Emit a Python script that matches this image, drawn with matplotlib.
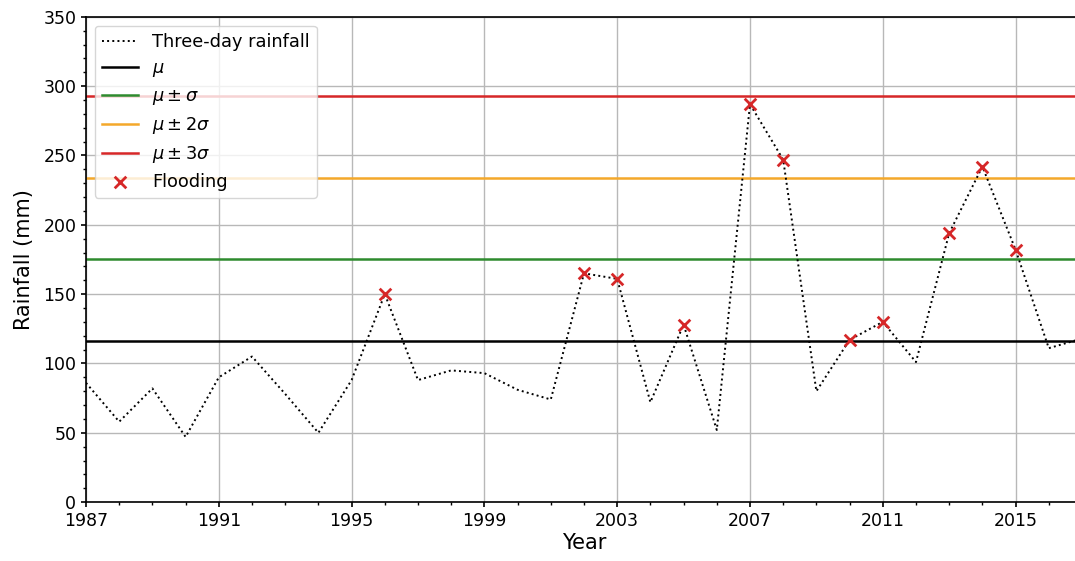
import matplotlib
matplotlib.use("Agg")
import matplotlib.pyplot as plt
from matplotlib.ticker import MultipleLocator, FixedLocator

years = list(range(1987, 2018))
rainfall = [86, 58, 82, 47, 90, 105, 78, 50, 88, 150, 88, 95, 93, 81, 74,
            165, 161, 72, 128, 52, 287, 247, 80, 117, 130, 101, 194, 242,
            182, 111, 118]
flood_years = [1996, 2002, 2003, 2005, 2007, 2008, 2010, 2011, 2013, 2014, 2015]
year_ticks = [1987, 1991, 1995, 1999, 2003, 2007, 2011, 2015]

mu = 116
sigma = 59

flood_values = [rainfall[years.index(y)] for y in flood_years]

fig = plt.figure(figsize=(10.75, 5.61), dpi=100)
ax = fig.add_axes([0.08, 0.105, 0.9265, 0.865])

ax.plot(years, rainfall, color="black", linestyle=":", linewidth=1.4,
        label="Three-day rainfall", zorder=3)
ax.axhline(mu, color="black", linewidth=1.8, label=r"$\mu$", zorder=2)
ax.axhline(mu + sigma, color="#2e8b2e", linewidth=1.8,
           label=r"$\mu \pm \sigma$", zorder=2)
ax.axhline(mu + 2 * sigma, color="#f4a82a", linewidth=1.8,
           label=r"$\mu \pm 2\sigma$", zorder=2)
ax.axhline(mu + 3 * sigma, color="#d62728", linewidth=1.8,
           label=r"$\mu \pm 3\sigma$", zorder=2)
ax.scatter(flood_years, flood_values, marker="x",
           color="#d62728", s=70, linewidths=2, label="Flooding", zorder=4)

ax.set_xlim(1987, 2017)
ax.set_ylim(0, 350)
ax.xaxis.set_major_locator(FixedLocator(year_ticks))
ax.xaxis.set_minor_locator(MultipleLocator(1))
ax.yaxis.set_major_locator(MultipleLocator(50))
ax.yaxis.set_minor_locator(MultipleLocator(10))
ax.grid(True, which="major", color="#b8b8b8", linewidth=1.0)
ax.set_axisbelow(True)
for s in ax.spines.values():
    s.set_linewidth(1.2)
ax.tick_params(axis="both", which="major", labelsize=12.5, width=1.2)
ax.tick_params(axis="both", which="minor", width=1.0)

ax.set_xlabel("Year", fontsize=15, labelpad=2)
ax.set_ylabel("Rainfall (mm)", fontsize=15, labelpad=7)

ax.legend(loc="upper left", fontsize=12.8, handlelength=2.0,
          labelspacing=0.45, borderaxespad=0.5)

fig.savefig("out.png", dpi=100)
